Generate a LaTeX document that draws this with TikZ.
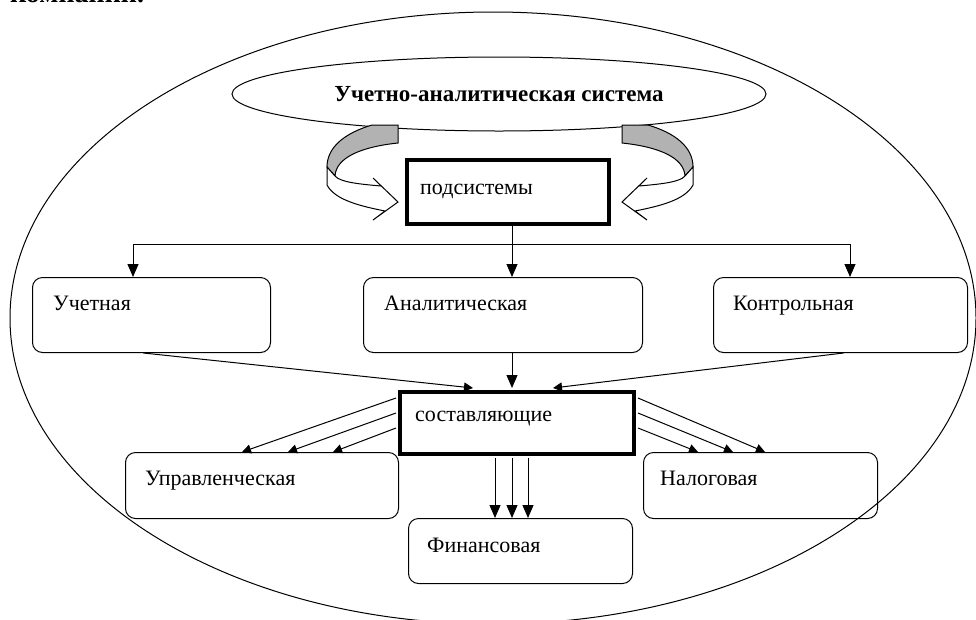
\documentclass[tikz,border=0pt]{standalone}
\usepackage{fontspec}
\setmainfont{Liberation Serif}
\usetikzlibrary{arrows.meta,shapes.geometric,calc}
\begin{document}
\begin{tikzpicture}[x=1pt,y=-1pt,
  ln/.style={line width=1pt},
  rbox/.style={draw, line width=1pt, rounded corners=10pt, anchor=north west, inner sep=0pt},
  tbox/.style={draw, line width=4pt, anchor=north west, inner sep=0pt},
  lbl/.style={anchor=base west, inner sep=0pt, font=\fontsize{22}{26}\selectfont},
  arr/.style={line width=1pt, -{Triangle[length=13pt,width=11pt]}},
  sarr/.style={line width=1pt, -{Triangle[length=9pt,width=9pt]}},
  curvarr/.pic={
    \filldraw[fill=gray!60, draw=black, line width=1pt]
      (372,125) .. controls (345,133) and (327,147) .. (327,167)
      -- (335,176) .. controls (336,158) and (360,147) .. (398,143)
      -- (398,125) -- cycle;
    \filldraw[fill=white, draw=black, line width=1pt]
      (327,167) -- (327,185) .. controls (335,200) and (360,206) .. (385,211)
      -- (373,220) -- (398,202) -- (373,178) -- (381,186)
      .. controls (358,184) and (340,182) .. (335,176) -- cycle;
  }]
\useasboundingbox (0,0) rectangle (976,619);
\clip (0,0) rectangle (976,619);
\fill[white] (0,0) rectangle (976,619);

\node[anchor=base west, inner sep=0pt, font=\bfseries\fontsize{28}{30}\selectfont] (kom) at (10,2) {компании.};

% outer ellipse
\node[draw, ln, ellipse, minimum width=966pt, minimum height=612pt, inner sep=0pt] (outer) at (493,318) {};

% top ellipse
\node[draw, ln, ellipse, minimum width=534pt, minimum height=74pt, inner sep=0pt] (uas) at (499,94) {};
\node[anchor=base, inner sep=0pt, font=\bfseries\fontsize{23}{27}\selectfont] (uast) at (499,101) {Учетно-аналитическая система};

% curved arrows
\pic at (0,0) {curvarr};
\pic[shift={(1020,0)}, xscale=-1] at (0,0) {curvarr};

% boxes
\node[tbox, minimum width=202pt, minimum height=64pt] (pod) at (405,158) {};
\node[lbl] (podt) at (420,194) {подсистемы};

\node[rbox, minimum width=238pt, minimum height=75pt] (u) at (32,277) {};
\node[lbl] (ut) at (53,310) {Учетная};
\node[rbox, minimum width=279pt, minimum height=75pt] (an) at (363,277) {};
\node[lbl] (ant) at (384,310) {Аналитическая};
\node[rbox, minimum width=254pt, minimum height=75pt] (ko) at (713,277) {};
\node[lbl] (kot) at (733,310) {Контрольная};

\node[tbox, minimum width=234pt, minimum height=62pt] (sos) at (398,390) {};
\node[lbl] (sost) at (415,421) {составляющие};

\node[rbox, minimum width=273pt, minimum height=66pt] (upr) at (125,452) {};
\node[lbl] (uprt) at (145,485) {Управленческая};
\node[rbox, minimum width=224pt, minimum height=65pt] (fin) at (408,518) {};
\node[lbl] (fint) at (427,552) {Финансовая};
\node[rbox, minimum width=234pt, minimum height=66pt] (nal) at (643,452) {};
\node[lbl] (nalt) at (660,485) {Налоговая};

% bus from подсистемы
\coordinate (bl) at (133,244);
\coordinate (bm) at (512,244);
\coordinate (br) at (850,244);
\draw[ln] (pod.south -| bm) -- (bm);
\draw[ln] (bl) -- (br);
\draw[arr] (bl) -- (bl |- u.north);
\draw[arr] (bm) -- (bm |- an.north);
\draw[arr] (br) -- (br |- ko.north);

% into составляющие
\draw[arr] (an.south -| bm) -- ($(bm |- sos.north)+(0,-2)$);
\draw[sarr] ($(u.south)+(-8,0)$) -- ($(sos.north west)+(75,-2)$);
\draw[sarr] ($(ko.south)+(3,0)$) -- ($(sos.north west)+(155,-2)$);

% to Управленческая
\draw[sarr] ($(sos.north west)+(-2,8)$) -- ($(upr.north west)+(117,0)$);
\draw[sarr] ($(sos.north west)+(-2,23)$) -- ($(upr.north west)+(163,0)$);
\draw[sarr] ($(sos.north west)+(-2,38)$) -- ($(upr.north west)+(208,0)$);

% to Налоговая
\draw[sarr] ($(sos.north east)+(2,8)$) -- ($(nal.north west)+(122,0)$);
\draw[sarr] ($(sos.north east)+(2,23)$) -- ($(nal.north west)+(90,0)$);
\draw[sarr] ($(sos.north east)+(2,38)$) -- ($(nal.north west)+(55,0)$);

% to Финансовая
\draw[arr] ($(sos.south west)+(97,2)$) -- ($(fin.north west)+(87,0)$);
\draw[arr] ($(sos.south west)+(114,2)$) -- ($(fin.north west)+(104,0)$);
\draw[arr] ($(sos.south west)+(130,2)$) -- ($(fin.north west)+(120,0)$);
\end{tikzpicture}
\end{document}
